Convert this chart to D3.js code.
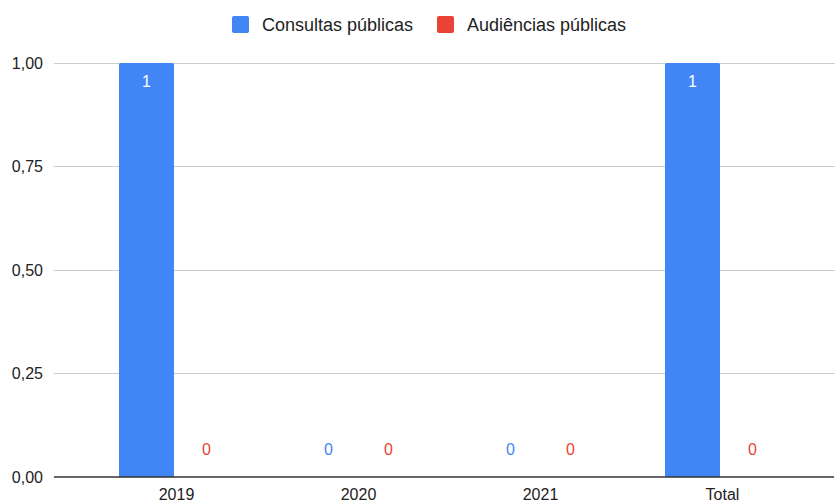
<!DOCTYPE html>
<html>
<head>
<meta charset="utf-8">
<script src="https://cdn.jsdelivr.net/npm/d3@7"></script>
<style>
  html, body { margin: 0; padding: 0; background: #fff; }
  svg { display: block; font-family: "Liberation Sans", Arial, sans-serif; }
</style>
</head>
<body>
<svg id="chart" width="835" height="502"></svg>
<script>
// Participation events per year
const categories = ["2019", "2020", "2021", "Total"];
const seriesNames = ["Consultas públicas", "Audiências públicas"];
const consultas = [1, 0, 0, 1];
const audiencias = [0, 0, 0, 0];
const yTicks = [0, 0.25, 0.5, 0.75, 1];
const colors = ["#4285f4", "#ea4335"];

const seriesValues = [consultas, audiencias];
const rows = categories.map((c, i) => ({
  category: c,
  values: seriesNames.map((s, k) => ({ series: s, k, value: seriesValues[k][i] }))
}));

const svg = d3.select("#chart");
const plotLeft = 54, plotRight = 835;
const plotTop = 63, plotBottom = 477;

const x = d3.scaleBand()
  .domain(categories)
  .range([85.5, 813.5])
  .paddingInner(67 / 182)
  .paddingOuter(33.5 / 182);

const xs = d3.scaleBand()
  .domain(seriesNames)
  .range([0, x.bandwidth()])
  .paddingInner(1 / 12);

const y = d3.scaleLinear().domain([0, 1]).range([plotBottom, plotTop]);

const fmt = v => d3.format(".2f")(v).replace(".", ",");

// gridlines
svg.append("g")
  .selectAll("line")
  .data(yTicks.filter(t => t !== 0))
  .join("line")
  .attr("x1", plotLeft).attr("x2", plotRight)
  .attr("y1", d => y(d)).attr("y2", d => y(d))
  .attr("stroke", "#cccccc").attr("stroke-width", 1)
  .attr("shape-rendering", "crispEdges");

// y tick labels
svg.append("g")
  .selectAll("text")
  .data(yTicks)
  .join("text")
  .attr("x", 43)
  .attr("y", d => y(d))
  .attr("dy", "0.35em")
  .attr("text-anchor", "end")
  .attr("font-size", 16)
  .attr("fill", "#222")
  .text(fmt);

// bars
const groups = svg.append("g")
  .selectAll("g")
  .data(rows)
  .join("g")
  .attr("transform", d => `translate(${x(d.category)},0)`);

groups.selectAll("path")
  .data(d => d.values.filter(v => v.value > 0))
  .join("path")
  .attr("fill", d => colors[d.k])
  .attr("d", d => {
    const x0 = xs(d.series), w = xs.bandwidth();
    const y0 = y(d.value), y1 = y(0), r = 2;
    return `M${x0},${y1}V${y0 + r}Q${x0},${y0} ${x0 + r},${y0}H${x0 + w - r}Q${x0 + w},${y0} ${x0 + w},${y0 + r}V${y1}Z`;
  });

// value labels
groups.selectAll("text")
  .data(d => d.values)
  .join("text")
  .attr("x", d => xs(d.series) + xs.bandwidth() / 2)
  .attr("y", d => d.value > 0 ? y(d.value) + 18 : y(d.value) - 28)
  .attr("dy", "0.35em")
  .attr("text-anchor", "middle")
  .attr("font-size", 16)
  .attr("fill", d => d.value > 0 ? "#ffffff" : colors[d.k])
  .text(d => d.value);

// baseline
svg.append("line")
  .attr("x1", plotLeft).attr("x2", plotRight - 1)
  .attr("y1", y(0)).attr("y2", y(0))
  .attr("stroke", "#333").attr("stroke-width", 1.5);

// x labels
svg.append("g")
  .selectAll("text")
  .data(categories)
  .join("text")
  .attr("x", d => x(d) + x.bandwidth() / 2)
  .attr("y", 500)
  .attr("text-anchor", "middle")
  .attr("font-size", 16)
  .attr("fill", "#222")
  .text(d => d);

// legend
const legendItems = [
  { name: seriesNames[0], color: colors[0], sx: 232 },
  { name: seriesNames[1], color: colors[1], sx: 437 }
];
const lg = svg.append("g")
  .selectAll("g")
  .data(legendItems)
  .join("g")
  .attr("transform", d => `translate(${d.sx},16)`);
lg.append("rect")
  .attr("width", 17).attr("height", 17).attr("rx", 2)
  .attr("fill", d => d.color);
lg.append("text")
  .attr("x", 30).attr("y", 8.5).attr("dy", "0.35em")
  .attr("font-size", 18).attr("fill", "#222")
  .text(d => d.name);
</script>
</body>
</html>
